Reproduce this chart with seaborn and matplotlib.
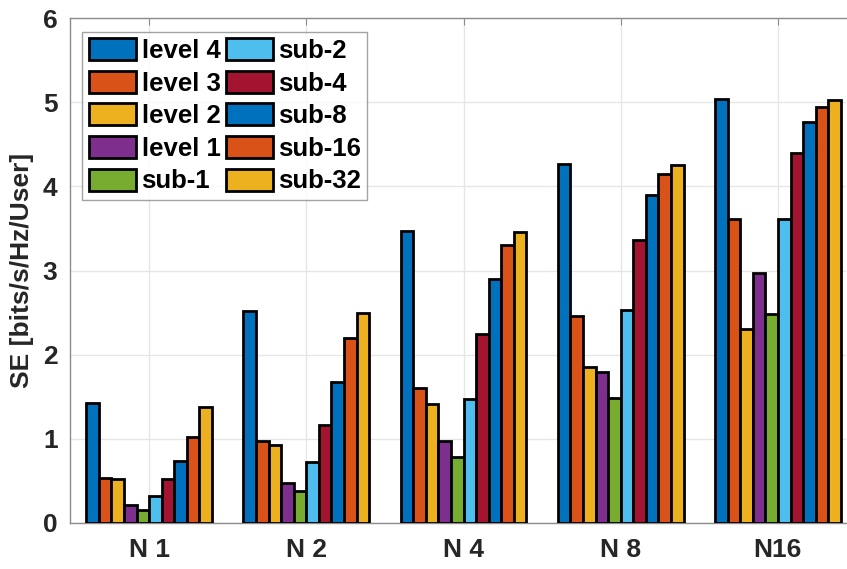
import matplotlib
matplotlib.use("Agg")
import matplotlib.pyplot as plt
import seaborn as sns
import pandas as pd

groups = ["N 1", "N 2", "N 4", "N 8", "N16"]
schemes = ["level 4", "level 3", "level 2", "level 1", "sub-1",
           "sub-2", "sub-4", "sub-8", "sub-16", "sub-32"]
colors = ["#0072BD", "#D95319", "#EDB120", "#7E2F8E", "#77AC30",
          "#4DBEEE", "#A2142F", "#0072BD", "#D95319", "#EDB120"]

level4 = [1.42, 2.52, 3.47, 4.26, 5.04]
level3 = [0.54, 0.98, 1.60, 2.46, 3.61]
level2 = [0.52, 0.93, 1.41, 1.85, 2.30]
level1 = [0.21, 0.48, 0.97, 1.80, 2.97]
sub1 = [0.16, 0.38, 0.79, 1.49, 2.48]
sub2 = [0.32, 0.73, 1.47, 2.53, 3.61]
sub4 = [0.52, 1.17, 2.24, 3.36, 4.40]
sub8 = [0.74, 1.67, 2.90, 3.90, 4.77]
sub16 = [1.02, 2.20, 3.30, 4.15, 4.94]
sub32 = [1.38, 2.50, 3.46, 4.25, 5.03]

series = [level4, level3, level2, level1, sub1, sub2, sub4, sub8, sub16, sub32]

rows = []
for name, vals in zip(schemes, series):
    for g, v in zip(groups, vals):
        rows.append({"group": g, "scheme": name, "SE": v})
df = pd.DataFrame(rows)

sns.set_style("white")
plt.rcParams["font.family"] = ["Liberation Sans", "DejaVu Sans"]
plt.rcParams["font.weight"] = "bold"

fig = plt.figure(figsize=(8.47, 5.69), dpi=100)
ax = fig.add_axes([70 / 847, 46 / 569, 776 / 847, 505 / 569])

palette = dict(zip(schemes, colors))
sns.barplot(data=df, x="group", y="SE", hue="scheme", order=groups,
            hue_order=schemes, palette=palette, saturation=1, width=0.8,
            gap=0, errorbar=None, edgecolor="black", linewidth=2, ax=ax,
            zorder=3)

ax.set_xlim(-0.503, 4.433)
ax.set_ylim(0, 6)
ax.set_yticks(range(0, 7))
ax.grid(True, color="#e6e6e6", linewidth=1, zorder=0)
ax.set_axisbelow(True)

for side in ["left", "bottom", "top"]:
    ax.spines[side].set_color("#8c8c8c")
    ax.spines[side].set_linewidth(1)
ax.spines["right"].set_visible(False)

ax.tick_params(axis="both", direction="in", length=5, color="#8c8c8c",
               labelsize=19, labelcolor="#262626", top=True)
ax.tick_params(axis="x", pad=11)
ax.tick_params(axis="y", pad=9)
for lab in ax.get_xticklabels() + ax.get_yticklabels():
    lab.set_fontweight("bold")

ax.set_xlabel("")
ax.set_ylabel("SE [bits/s/Hz/User]", fontsize=19, fontweight="bold",
              color="#262626", labelpad=6)

handles, labels = ax.get_legend_handles_labels()
if ax.get_legend() is not None:
    ax.get_legend().remove()
leg = ax.legend(handles, labels, ncol=2, loc="upper left",
                bbox_to_anchor=(0.016, 0.973),
                prop={"weight": "bold", "size": 18.5},
                frameon=True, fancybox=False, edgecolor="#8c8c8c",
                handlelength=1.85, handleheight=0.95, handletextpad=0.2,
                labelspacing=0.3, columnspacing=0.2, borderpad=0.25,
                borderaxespad=0)
leg.get_frame().set_linewidth(1)
for t in leg.get_texts():
    t.set_color("black")

fig.savefig("out.png", dpi=100)
